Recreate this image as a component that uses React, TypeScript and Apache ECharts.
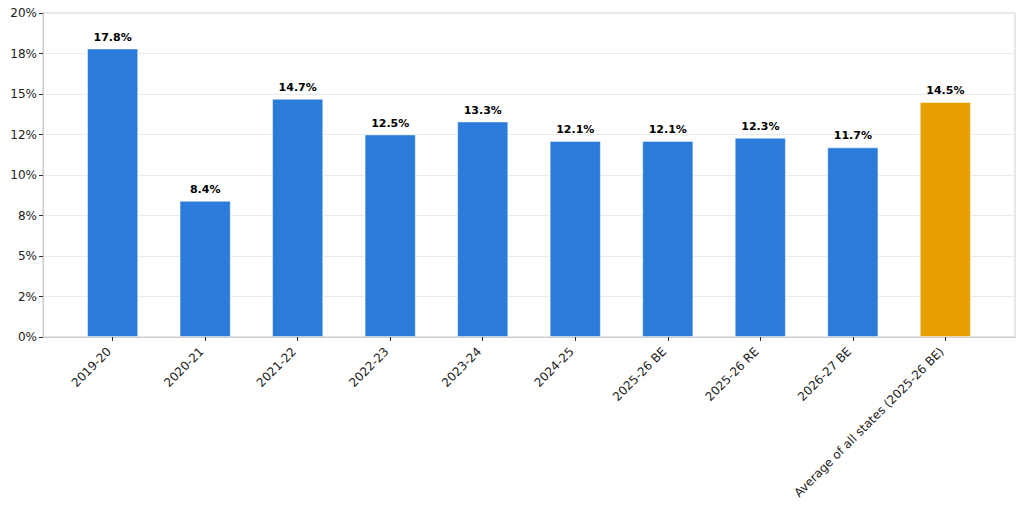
import React, { useEffect, useRef } from "react";
import * as echarts from "echarts";

const categories = [
  "2019-20",
  "2020-21",
  "2021-22",
  "2022-23",
  "2023-24",
  "2024-25",
  "2025-26 BE",
  "2025-26 RE",
  "2026-27 BE",
  "Average of all states (2025-26 BE)",
];
const values = [17.8, 8.4, 14.7, 12.5, 13.3, 12.1, 12.1, 12.3, 11.7, 14.5];
const highlightIndex = 9;
const yTickLabels: Record<string, string> = {
  "0": "0%",
  "2.5": "2%",
  "5": "5%",
  "7.5": "8%",
  "10": "10%",
  "12.5": "12%",
  "15": "15%",
  "17.5": "18%",
  "20": "20%",
};

const BLUE = "#2b7bdb";
const ORANGE = "#e8a000";
const FONT = "DejaVu Sans";

export default function App() {
  const ref = useRef<HTMLDivElement>(null);
  useEffect(() => {
    document.body.style.margin = "0";
    if (!ref.current) return;
    const chart = echarts.init(ref.current, undefined, { renderer: "svg" });
    const idx = categories.map((_, i) => i);
    chart.setOption({
      animation: false,
      backgroundColor: "#ffffff",
      grid: {
        left: 43,
        right: 9,
        top: 13,
        bottom: 170,
        show: true,
        borderColor: "#cccccc",
        borderWidth: 1,
        containLabel: false,
      },
      xAxis: {
        type: "value",
        min: -0.7525,
        max: 9.7525,
        splitLine: { show: false },
        axisLine: { show: true, onZero: false, lineStyle: { color: "#cccccc" } },
        axisTick: {
          show: true,
          inside: false,
          customValues: idx,
          length: 4,
          lineStyle: { color: "#333333" },
        },
        axisLabel: {
          customValues: idx,
          rotate: 45,
          fontFamily: FONT,
          fontSize: 12,
          color: "#222222",
          margin: 9,
          padding: [0, 5, 0, 0],
          formatter: (v: number) => categories[Math.round(v)] ?? "",
        },
      },
      yAxis: {
        type: "value",
        min: 0,
        max: 20,
        interval: 2.5,
        axisLine: { show: true, onZero: false, lineStyle: { color: "#cccccc" } },
        axisTick: { show: true, inside: false, length: 4, lineStyle: { color: "#333333" } },
        splitLine: { show: true, lineStyle: { color: "#ebebeb", width: 1 } },
        axisLabel: {
          fontFamily: FONT,
          fontSize: 12,
          color: "#222222",
          margin: 6,
          formatter: (v: number) => yTickLabels[String(v)] ?? "",
        },
      },
      series: [
        {
          type: "bar",
          barWidth: 51,
          data: values.map((v, i) => ({
            value: [i, v],
            itemStyle: {
              color: i === highlightIndex ? ORANGE : BLUE,
              borderColor: "rgba(255,255,255,0.6)",
              borderWidth: 0.8,
            },
          })),
          label: {
            show: true,
            position: "top",
            distance: 6,
            fontFamily: FONT,
            fontSize: 11,
            fontWeight: "bold",
            color: "#000000",
            formatter: (p: any) => p.value[1].toFixed(1) + "%",
          },
        },
      ],
    });
    return () => chart.dispose();
  }, []);
  return <div ref={ref} style={{ width: 1024, height: 507 }} />;
}
